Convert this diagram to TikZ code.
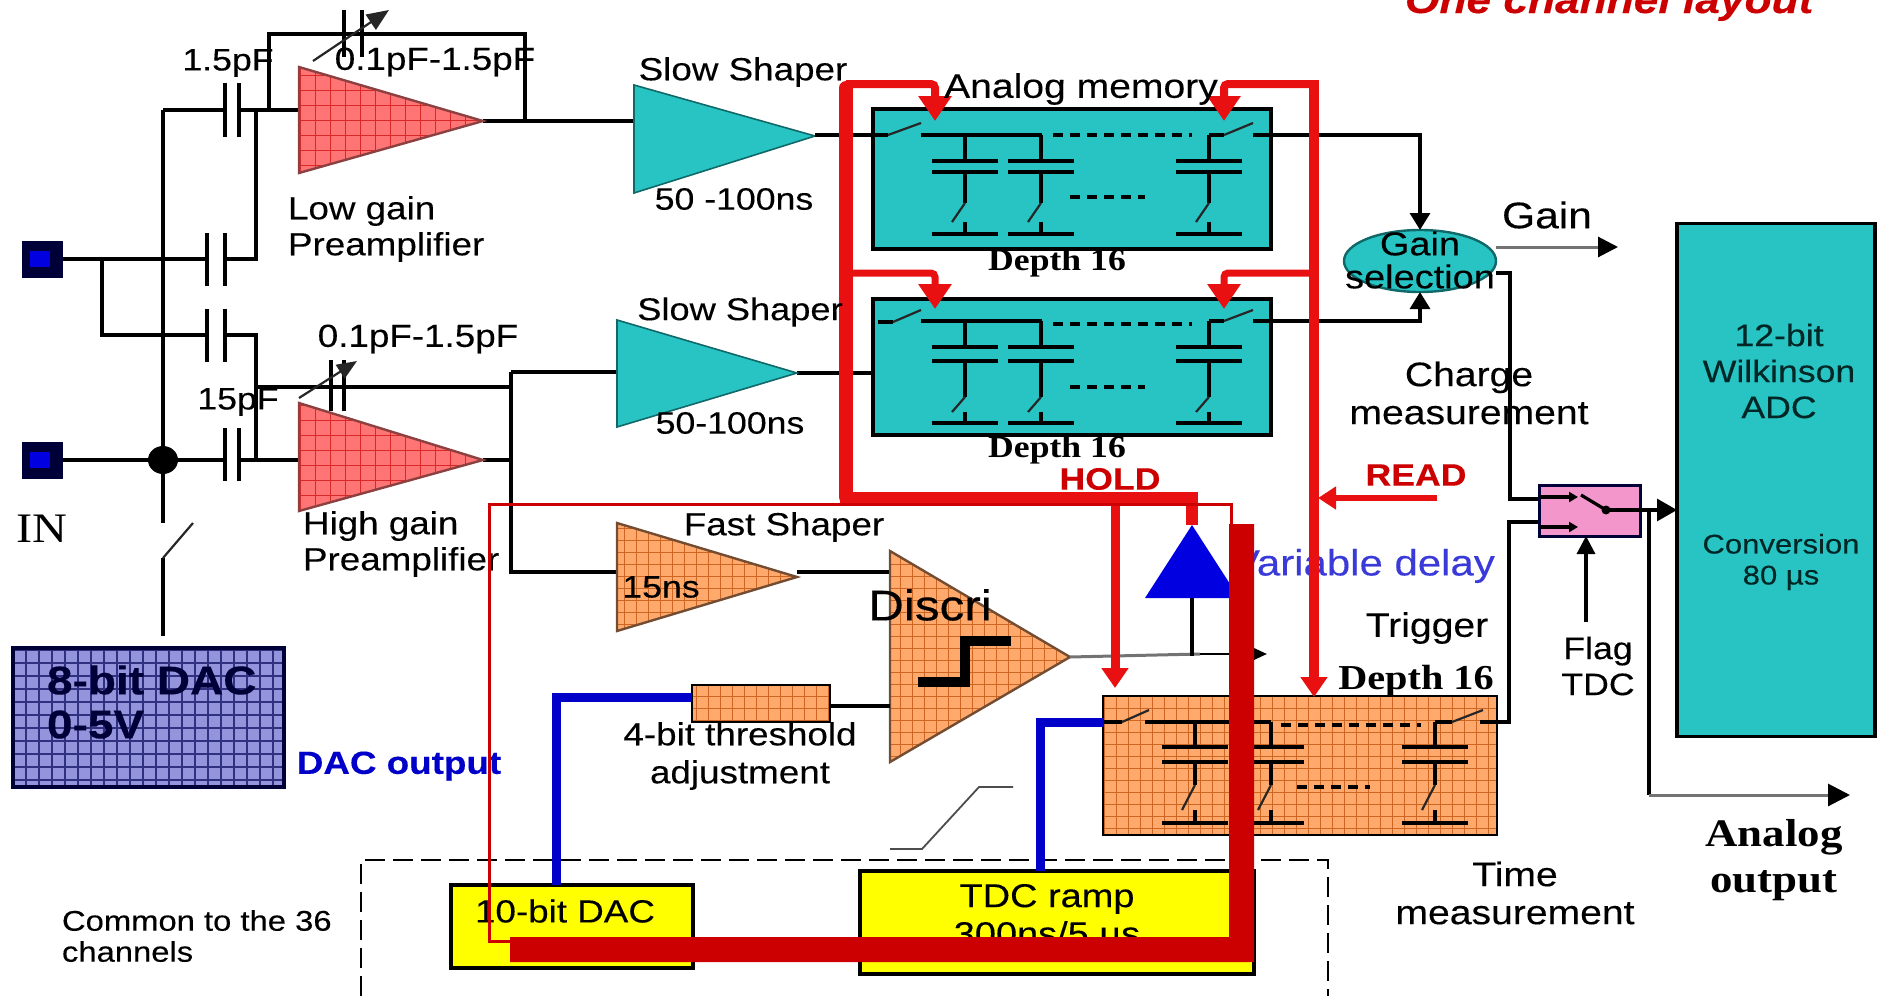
\documentclass[tikz,border=0pt]{standalone}
\usepackage{fontspec}
\setmainfont[FakeStretch=1.15,FakeBold=0.25]{Liberation Sans}
\newfontfamily\tmsf[FakeStretch=1.15]{Liberation Serif}
\usetikzlibrary{arrows.meta,shapes.geometric,calc}
\definecolor{tealf}{HTML}{28C4C4}
\definecolor{tealedge}{HTML}{106868}
\definecolor{salmon}{HTML}{FF7474}
\definecolor{salmong}{HTML}{D82828}
\definecolor{orangef}{HTML}{FFAA6C}
\definecolor{orangeg}{HTML}{CC6622}
\definecolor{vio}{HTML}{9494DC}
\definecolor{viog}{HTML}{303080}
\definecolor{navy}{HTML}{000038}
\definecolor{sigred}{HTML}{E81010}
\definecolor{barred}{HTML}{CC0000}
\definecolor{dacblue}{HTML}{0000C8}
\definecolor{pinkf}{HTML}{F296CC}
\definecolor{yel}{HTML}{FFFF00}
\definecolor{padblue}{HTML}{0000E0}
\definecolor{delayblue}{HTML}{3A3AD8}
\tikzset{
 wire/.style={draw=black,line width=3.2pt},
 fine/.style={draw=black!85,line width=2.2pt},
 greyw/.style={draw=black!55,line width=3pt},
 plate/.style={draw=black,line width=3.2pt},
 hold/.style={draw=sigred,line width=8pt},
 bluew/.style={draw=dacblue,line width=9pt},
 bigarr/.style={-{Triangle[length=25pt,width=32pt]}},
 lab/.style={inner sep=0pt,outer sep=0pt,align=center,text=black,font=\fontsize{31}{36}\selectfont},
 frame/.style={draw=black,line width=3.4pt,inner sep=0pt,outer sep=0pt},
}
\newcommand\hatchfill[5]{%
 \begin{scope}\clip #1;
 \fill[#2] (0,0) rectangle (1880,996);
 \draw[#3,line width=.8pt,step=#4pt] (0,0) grid (1880,996);
 \end{scope}
 \draw[#5,line width=2.4pt,line join=miter] #1;}
\newcommand\cell[7]{%
 \draw[wire] (#1,#2) -- (#1,#3);
 \draw[plate] (#1-33,#3) -- (#1+33,#3);
 \draw[plate] (#1-33,#4) -- (#1+33,#4);
 \draw[wire] (#1,#4) -- (#1,#5);
 \draw[fine] (#1,#5) -- (#1-13,#6);
 \draw[wire] (#1,#6) -- (#1,#7);
 \draw[plate] (#1-33,#7) -- (#1+33,#7);}
\newcommand\vplates[4]{%
 \draw[plate] (#1,#3) -- (#1,#4);
 \draw[plate] (#2,#3) -- (#2,#4);}
\begin{document}
\begin{tikzpicture}[x=1pt,y=-1pt]
\useasboundingbox (0,0) rectangle (1880,996);
\clip (0,0) rectangle (1880,996);

% ---------- named points
\coordinate (inA) at (63,259);
\coordinate (inB) at (63,460);
\coordinate (brA) at (102,259);
\coordinate (brB) at (102,335);
\coordinate (capAl) at (207,259);
\coordinate (capAr) at (225,259);
\coordinate (capBl) at (207,335);
\coordinate (capBr) at (225,335);
\coordinate (j1) at (256,259);
\coordinate (j2) at (256,110);
\coordinate (j3) at (256,335);
\coordinate (j4) at (256,460);
\coordinate (j5) at (256,387);
\coordinate (cTl) at (225,110);
\coordinate (cTr) at (239,110);
\coordinate (cBl) at (225,460);
\coordinate (cBr) at (239,460);
\coordinate (busT) at (163,110);
\coordinate (dot) at (163,460);
\coordinate (sw1) at (163,523);
\coordinate (sw2) at (163,558);
\coordinate (sw3) at (193,523);
\coordinate (dacT) at (163,636);
\coordinate (lgIn) at (299,110);
\coordinate (lgOut) at (483,121);
\coordinate (hgIn) at (299,460);
\coordinate (hgOut) at (483,460);
\coordinate (fbA) at (269,110);
\coordinate (fbB) at (269,34);
\coordinate (fbC) at (525,34);
\coordinate (fbD) at (525,121);
\coordinate (ss1In) at (634,121);
\coordinate (ss1Out) at (815,135);
\coordinate (ss2In) at (617,372);
\coordinate (ss2Out) at (797,373);
\coordinate (hgBus) at (511,387);
\coordinate (hgBusT) at (511,372);
\coordinate (hgBusM) at (511,460);
\coordinate (hgBusB) at (511,572);
\coordinate (fsIn) at (617,572);
\coordinate (fsOut) at (797,572);
\coordinate (dsIn1) at (890,572);
\coordinate (dsIn2) at (890,706);
\coordinate (dsOut) at (1070,657);
\coordinate (trigEnd) at (1267,654);

% ---------- input pads
\node[fill=navy,minimum width=41pt,minimum height=37pt,inner sep=0pt,outer sep=0pt] (padA) at (42.5,259) {};
\node[fill=navy,minimum width=41pt,minimum height=37pt,inner sep=0pt,outer sep=0pt] (padB) at (42.5,460) {};
\node[fill=padblue,minimum width=20pt,minimum height=16pt,inner sep=0pt] (padAi) at (40,259) {};
\node[fill=padblue,minimum width=20pt,minimum height=16pt,inner sep=0pt] (padBi) at (40,460) {};

% ---------- input wiring
\draw[wire] (inA) -- (capAl);
\draw[wire] (brA) -- (brB) -- (capBl);
\draw[wire] (capAr) -- (j1) -- (j2);
\draw[wire] (capBr) -- (j3) -- (j4);
\draw[wire] (busT) -- (dot) -- (sw1);
\draw[wire] (busT) -- (cTl);
\draw[wire] (cTr) -- (lgIn);
\draw[wire] (inB) -- (cBl);
\draw[wire] (cBr) -- (hgIn);
\draw[wire] (sw2) -- (dacT);
\draw[fine] (sw2) -- (sw3);
\fill[black] (dot) ellipse (15pt and 14pt);
\vplates{207}{225}{233}{286}
\vplates{207}{225}{309}{362}
\vplates{225}{239}{83}{137}
\vplates{225}{239}{428}{481}

% ---------- feedback
\draw[wire] (fbA) -- (fbB) -- (fbC) -- (fbD);
\vplates{344}{362}{10}{57}
\draw[fine,-{Triangle[length=22pt,width=18pt]}] (313,61) -- (389,10);
\draw[wire] (j5) -- (hgBus);
\vplates{331}{344}{360}{411}
\draw[fine,-{Triangle[length=20pt,width=16pt]}] (299,398) -- (357,361);

% ---------- amplifiers
\draw[wire] (lgOut) -- (ss1In);
\draw[wire] (hgOut) -- (hgBusM);
\draw[wire] (hgBusT) -- (hgBusB) -- (fsIn);
\draw[wire] (hgBusT) -- (ss2In);
\draw[wire] (fsOut) -- (dsIn1);
\draw[wire] (ss2Out) -- (873,373);
\hatchfill{(299,67) -- (483,121) -- (299,173) -- cycle}{salmon}{salmong}{15}{black!45!salmon}
\hatchfill{(299,403) -- (483,460) -- (299,511) -- cycle}{salmon}{salmong}{15}{black!45!salmon}
\fill[tealf,draw=tealedge,line width=1.6pt] (634,85) -- (815,136) -- (634,193) -- cycle;
\fill[tealf,draw=tealedge,line width=1.6pt] (617,320) -- (797,373) -- (617,427) -- cycle;
\hatchfill{(617,523) -- (797,577) -- (617,631) -- cycle}{orangef}{orangeg}{12}{black!55!orangef}
\hatchfill{(890,551) -- (1070,657) -- (890,762) -- cycle}{orangef}{orangeg}{12}{black!55!orangef}
\draw[black,line width=10pt] (918,682) -- (965,682) -- (965,641) -- (1011,641);

% ---------- analog memories
\node[frame,fill=tealf,minimum width=398pt,minimum height=140pt] (memA) at (1072,179) {};
\node[frame,fill=tealf,minimum width=398pt,minimum height=136pt] (memB) at (1072,367) {};
\draw[wire] (ss1Out) -- (888,135);
\draw[fine] (888,135) -- (921,123);
\draw[wire] (921,135) -- (1042,135);
\draw[wire,dash pattern=on 10pt off 7pt] (1053,135) -- (1192,135);
\draw[wire] (1209,135) -- (1224,135);
\draw[fine] (1224,135) -- (1253,123);
\draw[wire] (1253,135) -- (1420,135) -- (1420,213);
\cell{965}{135}{161}{172}{203}{222}{234}
\cell{1041}{135}{161}{172}{203}{222}{234}
\cell{1209}{135}{161}{172}{203}{222}{234}
\draw[wire,dash pattern=on 10pt off 7pt] (1070,197) -- (1145,197);
\draw[wire] (878,322) -- (893,322);
\draw[fine] (893,322) -- (921,310);
\draw[wire] (921,321) -- (1042,321);
\draw[wire,dash pattern=on 10pt off 7pt] (1053,324) -- (1192,324);
\draw[wire] (1209,321) -- (1224,321);
\draw[fine] (1224,321) -- (1253,310);
\draw[wire] (1253,321) -- (1420,321) -- (1420,310);
\cell{965}{321}{347}{361}{397}{412}{423}
\cell{1041}{321}{347}{361}{397}{412}{423}
\cell{1209}{321}{347}{361}{397}{412}{423}
\draw[wire,dash pattern=on 10pt off 7pt] (1070,387) -- (1145,387);

% ---------- gain selection
\node[ellipse,draw=tealedge,line width=2.4pt,fill=tealf,minimum width=152pt,minimum height=62pt,inner sep=0pt,outer sep=0pt] (gsel) at (1420,261) {};
\draw[-{Triangle[length=17pt,width=20pt]},wire] (1420,200) -- (gsel.north);
\draw[-{Triangle[length=17pt,width=20pt]},wire] (1420,315) -- (gsel.south);
\draw[greyw,-{Triangle[length=20pt,width=20pt,black]}] (1496,247) -- (1618,247);
\node[lab,font=\fontsize{33}{33}\selectfont] (gselt) at (1420,260) {Gain\\selection};

% ---------- ADC
\node[frame,fill=tealf,minimum width=198pt,minimum height=513pt] (adc) at (1776,480) {};
\node[lab,text=black!70!teal] (adct) at (1779,371) {12-bit\\Wilkinson\\ADC};
\node[lab,text=black!70!teal,font=\fontsize{27}{31}\selectfont] (adcc) at (1781,562) {Conversion\\80 µs};

% ---------- trigger memory
\draw[greyw] (dsOut) -- (1200,654);
\draw[wire] (1192,598) -- (1192,656);
\draw[draw=black,line width=2.6pt,-{Triangle[length=16pt,width=14pt]}] (1200,654) -- (trigEnd);
\hatchfill{(1103,696) rectangle (1497,835)}{orangef}{orangeg}{12}{black}
\draw[wire] (1104,722) -- (1122,722);
\draw[fine] (1122,722) -- (1149,710);
\draw[wire] (1145,722) -- (1271,722);
\draw[wire,dash pattern=on 10pt off 7pt] (1281,725) -- (1421,725);
\draw[wire] (1435,722) -- (1452,722);
\draw[fine] (1452,722) -- (1483,710);
\draw[wire] (1480,722) -- (1509,722) -- (1509,522) -- (1539,522);
\cell{1195}{722}{747}{762}{785}{810}{823}
\cell{1271}{722}{747}{762}{785}{810}{823}
\cell{1435}{722}{747}{762}{785}{810}{823}
\draw[wire,dash pattern=on 10pt off 7pt] (1297,787) -- (1370,787);

% ---------- multiplexer and outputs
\draw[wire] (gsel.east |- 0,273) -- (1510,273) -- (1510,499) -- (1539,499);
\node[draw=navy,line width=3pt,fill=pinkf,minimum width=101pt,minimum height=51pt,inner sep=0pt,outer sep=0pt] (mux) at (1589.5,510.5) {};
\draw[wire,-{Triangle[length=9pt,width=10pt]}] (mux.west |- 0,497) -- (1578,497);
\draw[wire,-{Triangle[length=9pt,width=10pt]}] (mux.west |- 0,527) -- (1578,527);
\draw[wire] (1581,495) -- (1606,510);
\fill[black] (1606,510) circle (4.5pt);
\draw[wire,-{Triangle[length=20pt,width=22pt]}] (1606,510) -- (adc.west |- 0,510);
\draw[wire] (1649,510) -- (1649,795);
\draw[greyw,-{Triangle[length=22pt,width=22pt,black]}] (1649,795) -- (1850,795);
\draw[wire,-{Triangle[length=18pt,width=18pt]}] (1586,622) -- (mux.south -| 1586,0);

% ---------- common part
\draw[draw=black,line width=2.8pt,dash pattern=on 20pt off 8pt] (361,996) -- (361,860) -- (1328,860) -- (1328,996);
\draw[black!70,line width=1.8pt] (890,849) -- (922,849) -- (979,787) -- (1013,787);
\node[frame,fill=yel,minimum width=242pt,minimum height=83pt] (dacten) at (572,926.5) {};
\node[frame,fill=yel,minimum width=394pt,minimum height=103pt] (tdc) at (1057,922.5) {};
\node[lab,font=\fontsize{32}{36}\selectfont] (dacl) at (565,911) {10-bit DAC};
\node[lab,font=\fontsize{33}{38}\selectfont] (tdcl) at (1047,918) {TDC ramp\\300ns/5 µs};

% ---------- threshold
\hatchfill{(692,685) rectangle (830,722)}{orangef}{orangeg}{12}{black}
\draw[wire] (830,706) -- (dsIn2);
\draw[bluew,line join=miter] (556,885) -- (556,697) -- (692,697);
\draw[bluew,line join=miter] (1040,871) -- (1040,722) -- (1104,722);

% ---------- 8-bit DAC
\begin{scope}
\clip (13,648) rectangle (284,787);
\fill[vio] (13,648) rectangle (284,787);
\draw[viog,line width=1.2pt,step=13pt] (0,0) grid (1880,996);
\end{scope}
\draw[navy,line width=3.4pt] (13,648) rectangle (284,787);
\node[lab,anchor=west,align=left,text=navy,font=\bfseries\fontsize{40}{44}\selectfont] (dac8) at (47,702) {8-bit DAC\\0-5V};

% ---------- HOLD / READ
\fill[padblue] (1192,525) -- (1239,598) -- (1145,598) -- cycle;
\node[lab,anchor=west,text=delayblue,font=\fontsize{36.5}{40}\selectfont] (vdelay) at (1232,566) {Variable delay};

\draw[hold,line width=14pt,line cap=round] (846,88) -- (846,497);
\draw[hold,line width=11pt] (840,497) -- (1192,497);
\draw[sigred,line width=12pt] (1192,492) -- (1192,525);
\draw[hold,rounded corners=4pt,bigarr] (846,84) -- (935,84) -- (935,121);
\draw[hold,line width=7pt,rounded corners=4pt,bigarr] (846,273) -- (935,273) -- (935,309);
\draw[hold,rounded corners=4pt,bigarr] (1314,84) -- (1224,84) -- (1224,121);
\draw[hold,line width=7pt,rounded corners=4pt,bigarr] (1314,273) -- (1224,273) -- (1224,309);
\draw[hold,line width=10pt,-{Triangle[length=20pt,width=26pt]}] (1314,80) -- (1314,697);
\draw[hold,line width=9pt,-{Triangle[length=20pt,width=26pt]}] (1115,497) -- (1115,688);
\draw[hold,line width=6pt,-{Triangle[length=18pt,width=22pt]}] (1437,498) -- (1318,498);

% ---------- labels
\node[lab] (l1) at (228,63) {1.5pF};
\node[lab,font=\fontsize{32}{36}\selectfont] (l2) at (435,62) {0.1pF-1.5pF};
\node[lab,font=\fontsize{32}{36}\selectfont] (l3) at (743,72) {Slow Shaper};
\node[lab] (l4) at (734,199) {50 -100ns};
\node[lab,anchor=west,align=left,font=\fontsize{32}{36}\selectfont] (l5) at (288,229) {Low gain\\Preamplifier};
\node[lab,font=\fontsize{32}{36}\selectfont] (l6) at (418,339) {0.1pF-1.5pF};
\node[lab,font=\fontsize{31.5}{36}\selectfont] (l7) at (740,312) {Slow Shaper};
\node[lab] (l8) at (238,402) {15pF};
\node[lab] (l9) at (730,423) {50-100ns};
\node[lab,font=\tmsf\fontsize{42}{44}\selectfont] (l10) at (42,529) {IN};
\node[lab,anchor=west,align=left,font=\fontsize{32}{36}\selectfont] (l11) at (303,544) {High gain\\Preamplifier};
\node[lab,font=\fontsize{32}{36}\selectfont] (l12) at (784,527) {Fast Shaper};
\node[lab] (l13) at (661,587) {15ns};
\node[lab,font=\fontsize{43}{48}\selectfont] (l14) at (930,605) {Discri};
\node[lab,text=dacblue,font=\bfseries\fontsize{32}{36}\selectfont] (l15) at (399,766) {DAC output};
\node[lab,font=\fontsize{32}{38}\selectfont] (l16) at (740,756) {4-bit threshold\\adjustment};
\node[lab,anchor=west,align=left,font=\fontsize{28.5}{31}\selectfont] (l17) at (62,936) {Common to the 36\\channels};
\node[lab,font=\fontsize{34}{38}\selectfont] (l18) at (1081,89) {Analog memory};
\node[lab,font=\tmsf\bfseries\fontsize{31}{34}\selectfont] (l19) at (1057,263) {Depth 16};
\node[lab,font=\tmsf\bfseries\fontsize{31}{34}\selectfont] (l20) at (1057,450) {Depth 16};
\node[lab,font=\tmsf\bfseries\fontsize{35}{38}\selectfont] (l21) at (1416,681) {Depth 16};
\node[lab,font=\fontsize{37}{40}\selectfont] (l22) at (1547,215) {Gain};
\node[lab,font=\fontsize{34}{38}\selectfont] (l23) at (1469,393) {Charge\\measurement};
\node[lab,text=barred,font=\bfseries\fontsize{31}{36}\selectfont] (l24) at (1110,479) {HOLD};
\node[lab,text=barred,font=\bfseries\fontsize{31}{36}\selectfont] (l25) at (1416,475) {READ};
\node[lab,font=\fontsize{34}{36}\selectfont] (l26) at (1427,628) {Trigger};
\node[lab,font=\fontsize{31}{36}\selectfont] (l27) at (1598,666) {Flag\\TDC};
\node[lab,font=\fontsize{34}{38}\selectfont] (l28) at (1515,893) {Time\\measurement};
\node[lab,font=\tmsf\bfseries\fontsize{39}{46}\selectfont] (l29) at (1774,860) {Analog\\output};
\node[lab,anchor=base west,text=barred,font=\bfseries\itshape\fontsize{38.5}{44}\selectfont] (title) at (1405,13) {One channel layout};

% ---------- overlay frame and bus
\draw[barred,line width=3pt] (489,504) rectangle (1231,941);
\fill[barred] (510,937) -- (1229,937) -- (1229,524) -- (1254,524) -- (1254,962) -- (510,962) -- cycle;
\end{tikzpicture}
\end{document}
